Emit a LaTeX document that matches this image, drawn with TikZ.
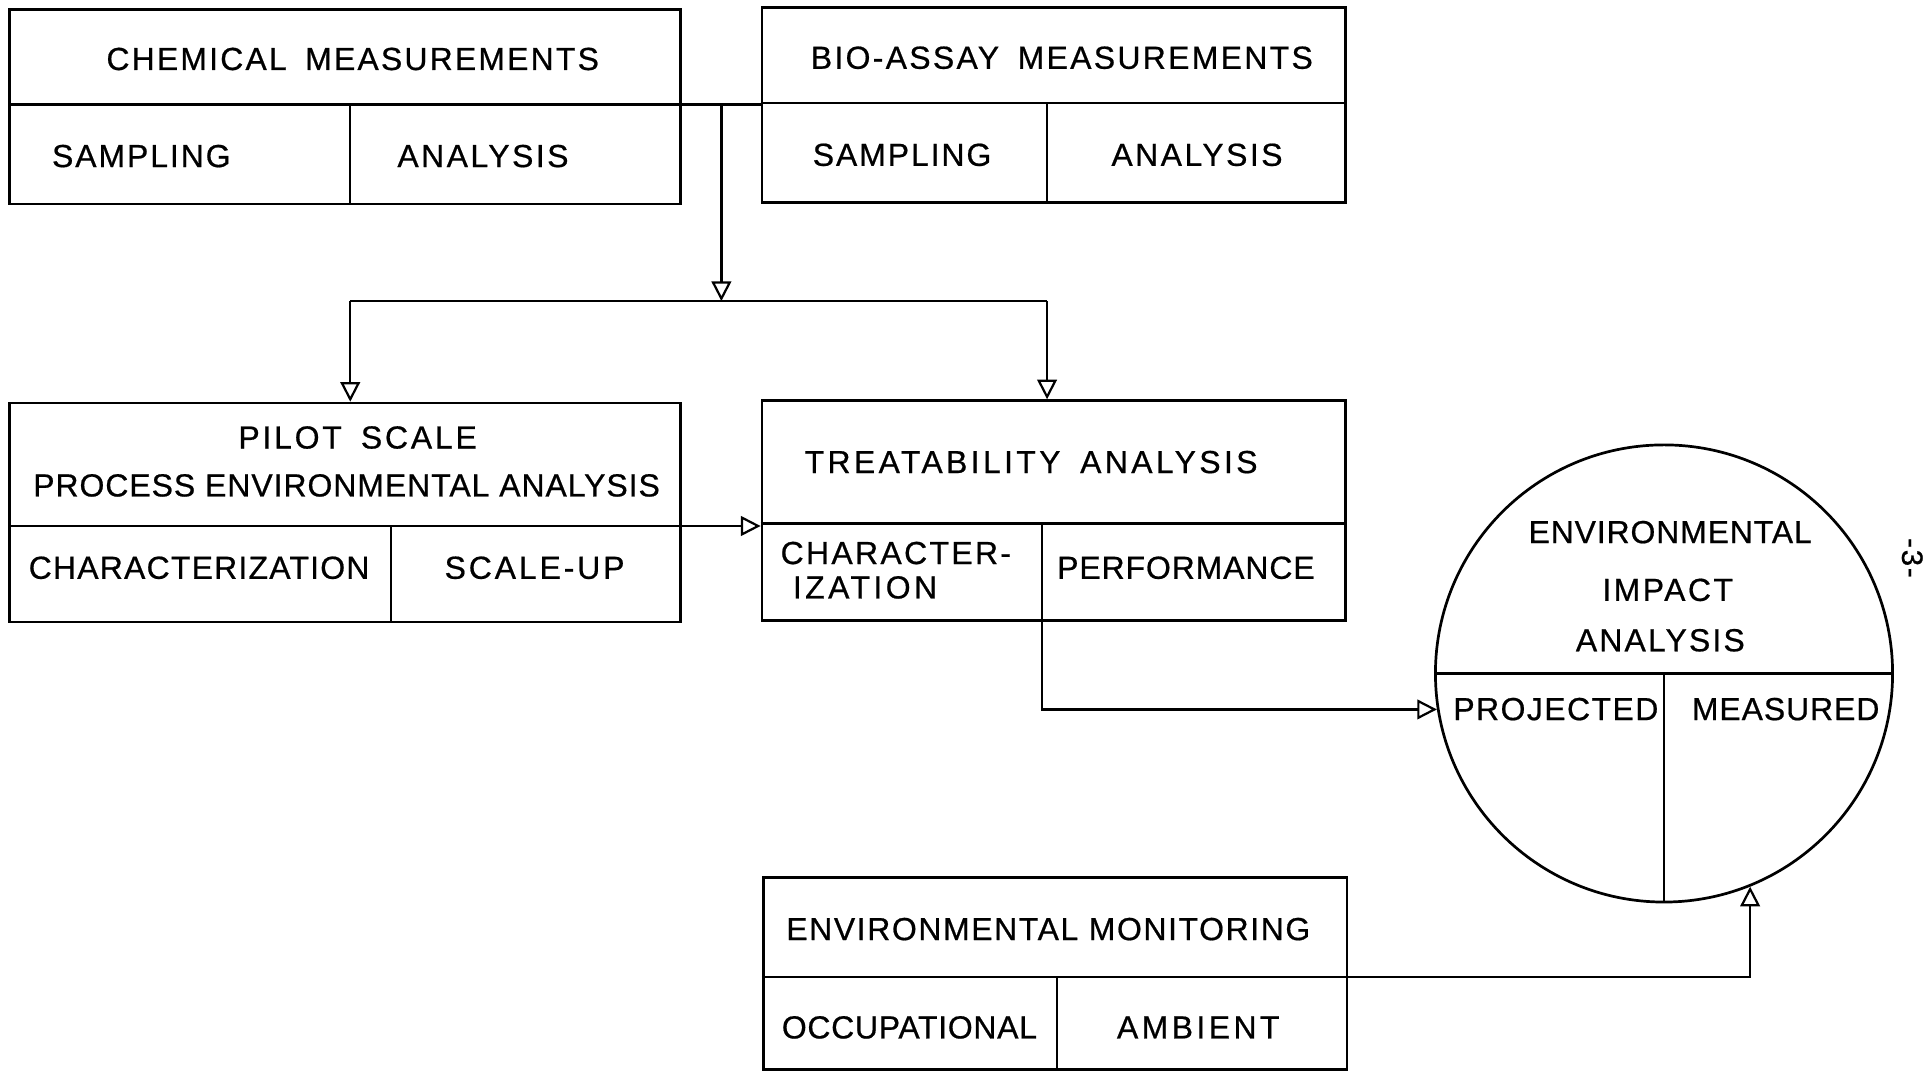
\documentclass[tikz,border=0pt]{standalone}
\usepackage{fontspec}
\setmainfont{Liberation Sans}
\usetikzlibrary{arrows.meta,calc}
\tikzset{
  box/.style={draw, line width=2.2pt, inner sep=0pt, rectangle},
  divl/.style={line width=2pt},
  conn/.style={line width=2pt},
  arr/.style={-{Triangle[open,length=16pt,width=16pt,line width=1.8pt]}},
  lbl/.style={font=\fontsize{26}{30}\selectfont\addfontfeatures{LetterSpace=#1,FakeBold=0.6}, inner sep=0pt},
  lbl/.default=6
}
\begin{document}
\begin{tikzpicture}[x=1pt,y=-1pt]
\useasboundingbox[fill=white] (0,0) rectangle (1568,872);

% ---------- boxes ----------
\node[box, minimum width=546pt, minimum height=158pt] (chem)  at (281,87) {};
\node[box, minimum width=475pt, minimum height=159pt] (bio)   at (857.5,85.5) {};
\node[box, minimum width=546pt, minimum height=178pt] (pilot) at (281,417) {};
\node[box, minimum width=475pt, minimum height=179pt] (treat) at (857.5,415.5) {};
\node[box, minimum width=475pt, minimum height=156pt] (mon)   at (858.5,792) {};
\node[draw, circle, line width=2.2pt, inner sep=0pt, minimum size=372pt] (eia) at (1354,548) {};

% ---------- dividers ----------
\draw[divl] (chem.west |- 0,85) -- (chem.east |- 0,85);
\draw[divl] (285,85) -- (285,166);
\draw[divl] (bio.west |- 0,84) -- (bio.east |- 0,84);
\draw[divl] (852,84) -- (852,165);
\draw[divl] (pilot.west |- 0,428) -- (pilot.east |- 0,428);
\draw[divl] (318,428) -- (318,506);
\draw[divl] (treat.west |- 0,426) -- (treat.east |- 0,426);
\draw[divl] (848,426) -- (848,505);
\draw[divl] (mon.west |- 0,795) -- (mon.east |- 0,795);
\draw[divl] (860,795) -- (860,870);
\draw[divl] (eia.west) -- (eia.east);
\draw[divl] (eia.center) -- (eia.south);

% ---------- labels ----------
\node[lbl=6.8] (t1) at (287,48) {CHEMICAL\hspace{6pt} MEASUREMENTS};
\node[lbl=6] (t2) at (115,127) {SAMPLING};
\node[lbl=7.7] (t3) at (393,127) {ANALYSIS};
\node[lbl=7.2] (t4) at (864,47) {BIO-ASSAY\hspace{6pt} MEASUREMENTS};
\node[lbl=6] (t5) at (734,126) {SAMPLING};
\node[lbl=7.7] (t6) at (974,126) {ANALYSIS};
\node[lbl=8.7] (t7) at (291,356) {PILOT\hspace{6pt} SCALE};
\node[lbl=3] (t8) at (282,395) {PROCESS ENVIRONMENTAL ANALYSIS};
\node[lbl=3.8] (t9) at (162,462) {CHARACTERIZATION};
\node[lbl=9] (t10) at (435,462) {SCALE-UP};
\node[lbl=10.5] (t11) at (839,376) {TREATABILITY\hspace{6pt} ANALYSIS};
\node[lbl=7.3, anchor=west] (t12) at (635,450) {CHARACTER-};
\node[lbl=10.7, anchor=west] (t13) at (645,478) {IZATION};
\node[lbl=2.8] (t14) at (965,462) {PERFORMANCE};
\node[lbl=2.7] (t15) at (1359,433) {ENVIRONMENTAL};
\node[lbl=7.7] (t16) at (1357,480) {IMPACT};
\node[lbl=6.7] (t17) at (1351,521) {ANALYSIS};
\node[lbl=4.5] (t18) at (1266,577) {PROJECTED};
\node[lbl=2.9] (t19) at (1453,577) {MEASURED};
\node[lbl=5] (t20) at (853,756) {ENVIRONMENTAL MONITORING};
\node[lbl=2.2] (t21) at (740,836) {OCCUPATIONAL};
\node[lbl=10.7] (t22) at (975,836) {AMBIENT};
\node[font=\fontsize{24}{28}\selectfont\addfontfeatures{LetterSpace=6,FakeBold=0.8}, rotate=-90, inner sep=0pt] (pg) at (1556,454) {-3-};

% ---------- connectors ----------
\coordinate (chemE) at (chem.east |- 0,85);
\coordinate (bioW) at (bio.west |- 0,85);
\coordinate (j1) at (587,85);
\coordinate (split) at (587,245);
\coordinate (treatIn) at ([xshift=-5.5pt]treat.north);
\coordinate (pilotIn) at ([xshift=4pt]pilot.north);
\draw[conn] (chemE) -- (bioW);
\draw[conn,arr] (j1) -- (split);
\draw[conn] (pilotIn |- split) -- (treatIn |- split);
\draw[conn,arr] (pilotIn |- split) -- (pilotIn);
\draw[conn,arr] (treatIn |- split) -- (treatIn);
\draw[conn,arr] (pilot.east |- 0,428) -- (treat.west |- 0,428);
\draw[conn,arr] (treat.south -| 848,0) |- (eia.189);
\draw[conn,arr] (mon.east |- 0,795) -| (eia.292);
\end{tikzpicture}
\end{document}
